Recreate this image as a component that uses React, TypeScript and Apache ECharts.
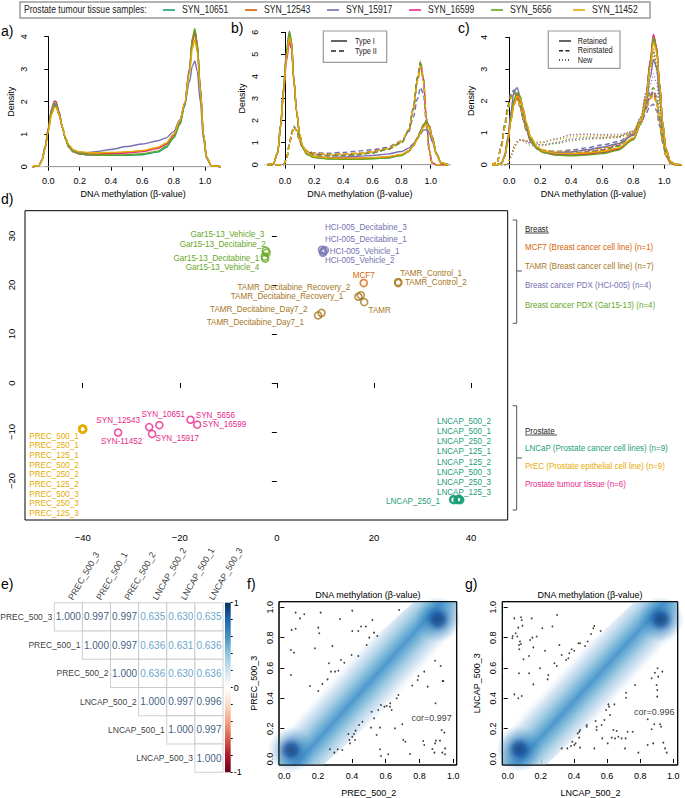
import React, { useEffect, useRef } from "react";
import * as echarts from "echarts";

// ---------------- data ----------------
const SAMPLES = ["SYN_10651", "SYN_12543", "SYN_15917", "SYN_16599", "SYN_5656", "SYN_11452"];
const SAMPLE_COLORS = ["#1B9E77", "#D95F02", "#7570B3", "#E7298A", "#66A61E", "#E6AB02"];
const LEGEND_TITLE = "Prostate tumour tissue samples:";
const X_TITLE = "DNA methylation (β-value)";

// (a) all probes
const A_X = [-0.1, -0.06, -0.04, -0.02, 0, 0.02, 0.04, 0.05, 0.07, 0.09, 0.11, 0.13, 0.16, 0.2, 0.25, 0.3, 0.4, 0.5, 0.6, 0.7, 0.75, 0.8, 0.84, 0.87, 0.9, 0.92, 0.935, 0.95, 0.97, 0.99, 1.01, 1.04, 1.1];
const A_10651 = [0, 0.03, 0.2, 0.6, 1.15, 1.7, 1.93, 1.92, 1.62, 1.2, 0.85, 0.62, 0.47, 0.4, 0.37, 0.36, 0.35, 0.35, 0.37, 0.45, 0.58, 0.88, 1.3, 1.85, 2.9, 3.85, 4.15, 3.75, 2.4, 1.0, 0.3, 0.03, 0];
const A_12543 = [0, 0.03, 0.19, 0.58, 1.1, 1.62, 1.85, 1.85, 1.58, 1.2, 0.86, 0.63, 0.48, 0.42, 0.39, 0.39, 0.41, 0.44, 0.48, 0.58, 0.7, 0.98, 1.4, 1.95, 2.95, 3.85, 4.1, 3.7, 2.4, 1.0, 0.3, 0.03, 0];
const A_15917 = [0, 0.03, 0.2, 0.6, 1.15, 1.68, 1.9, 1.88, 1.6, 1.2, 0.87, 0.65, 0.5, 0.44, 0.43, 0.46, 0.53, 0.62, 0.7, 0.8, 0.88, 1.08, 1.45, 1.9, 2.6, 3.1, 3.25, 2.95, 2.0, 0.85, 0.25, 0.03, 0];
const A_16599 = [0, 0.03, 0.21, 0.63, 1.2, 1.78, 2.02, 2.0, 1.68, 1.22, 0.85, 0.6, 0.45, 0.39, 0.37, 0.37, 0.39, 0.42, 0.47, 0.56, 0.68, 0.95, 1.38, 1.95, 3.0, 3.95, 4.2, 3.8, 2.45, 1.0, 0.3, 0.03, 0];
const A_5656 = [0, 0.03, 0.2, 0.6, 1.15, 1.72, 1.96, 1.95, 1.64, 1.2, 0.85, 0.61, 0.46, 0.4, 0.37, 0.36, 0.36, 0.37, 0.4, 0.48, 0.62, 0.9, 1.32, 1.9, 2.95, 3.95, 4.25, 3.85, 2.45, 1.0, 0.3, 0.03, 0];
const A_11452 = [0, 0.03, 0.19, 0.57, 1.08, 1.6, 1.83, 1.83, 1.58, 1.22, 0.9, 0.68, 0.52, 0.46, 0.44, 0.43, 0.44, 0.46, 0.5, 0.6, 0.72, 1.0, 1.42, 1.95, 2.85, 3.65, 3.9, 3.55, 2.35, 1.0, 0.3, 0.03, 0];
const A_CURVES = [A_10651, A_12543, A_15917, A_16599, A_5656, A_11452];

// (b) Type I (solid) / Type II (dashed)
const B_X = [-0.12, -0.08, -0.05, -0.03, -0.01, 0.01, 0.03, 0.045, 0.06, 0.08, 0.1, 0.12, 0.15, 0.2, 0.3, 0.4, 0.5, 0.6, 0.7, 0.8, 0.85, 0.88, 0.91, 0.93, 0.95, 0.97, 0.99, 1.01, 1.04, 1.07, 1.12];
const B1_10651 = [0, 0.05, 0.55, 1.8, 3.4, 5.0, 5.9, 5.5, 3.9, 2.4, 1.35, 0.8, 0.48, 0.33, 0.27, 0.26, 0.26, 0.28, 0.31, 0.42, 0.6, 0.85, 1.2, 1.5, 1.78, 1.92, 1.75, 1.25, 0.5, 0.08, 0];
const B1_12543 = [0, 0.05, 0.54, 1.77, 3.35, 4.9, 5.8, 5.42, 3.88, 2.42, 1.38, 0.82, 0.5, 0.35, 0.29, 0.28, 0.28, 0.3, 0.34, 0.45, 0.62, 0.86, 1.18, 1.47, 1.74, 1.88, 1.72, 1.22, 0.48, 0.08, 0];
const B1_15917 = [0, 0.05, 0.56, 1.85, 3.5, 5.15, 6.05, 5.6, 3.95, 2.4, 1.35, 0.82, 0.52, 0.38, 0.33, 0.35, 0.38, 0.42, 0.48, 0.6, 0.75, 0.95, 1.2, 1.4, 1.56, 1.6, 1.45, 1.05, 0.45, 0.08, 0];
const B1_16599 = [0, 0.05, 0.5, 1.7, 3.2, 4.7, 5.55, 5.25, 3.8, 2.4, 1.38, 0.82, 0.5, 0.35, 0.3, 0.29, 0.29, 0.31, 0.34, 0.45, 0.62, 0.87, 1.22, 1.52, 1.8, 1.95, 1.78, 1.27, 0.5, 0.08, 0];
const B1_5656 = [0, 0.05, 0.56, 1.83, 3.45, 5.08, 6.0, 5.58, 3.92, 2.4, 1.33, 0.78, 0.46, 0.32, 0.26, 0.25, 0.25, 0.27, 0.3, 0.41, 0.6, 0.86, 1.22, 1.53, 1.82, 1.96, 1.78, 1.26, 0.5, 0.08, 0];
const B1_11452 = [0, 0.05, 0.53, 1.75, 3.3, 4.85, 5.75, 5.4, 3.88, 2.45, 1.42, 0.86, 0.53, 0.37, 0.31, 0.3, 0.3, 0.32, 0.36, 0.46, 0.62, 0.85, 1.15, 1.43, 1.7, 1.85, 1.7, 1.22, 0.48, 0.08, 0];
const B2_10651 = [0, 0, 0, 0, 0, 0.25, 0.9, 1.4, 1.72, 1.55, 1.1, 0.78, 0.58, 0.48, 0.42, 0.43, 0.47, 0.55, 0.7, 1.0, 1.55, 2.5, 3.9, 4.55, 3.85, 2.1, 0.65, 0.08, 0, 0, 0];
const B2_12543 = [0, 0, 0, 0, 0, 0.24, 0.88, 1.38, 1.7, 1.55, 1.12, 0.8, 0.6, 0.5, 0.46, 0.48, 0.52, 0.6, 0.74, 1.05, 1.6, 2.5, 3.8, 4.45, 3.8, 2.1, 0.65, 0.08, 0, 0, 0];
const B2_15917 = [0, 0, 0, 0, 0, 0.25, 0.9, 1.4, 1.72, 1.56, 1.12, 0.82, 0.63, 0.54, 0.52, 0.56, 0.62, 0.68, 0.78, 1.08, 1.5, 2.15, 3.0, 3.5, 3.2, 1.9, 0.6, 0.08, 0, 0, 0];
const B2_16599 = [0, 0, 0, 0, 0, 0.26, 0.92, 1.42, 1.74, 1.56, 1.1, 0.77, 0.57, 0.47, 0.41, 0.42, 0.46, 0.54, 0.69, 1.0, 1.56, 2.55, 3.95, 4.62, 3.9, 2.1, 0.65, 0.08, 0, 0, 0];
const B2_5656 = [0, 0, 0, 0, 0, 0.25, 0.9, 1.4, 1.73, 1.56, 1.1, 0.76, 0.55, 0.45, 0.4, 0.41, 0.45, 0.53, 0.68, 0.98, 1.55, 2.55, 4.0, 4.7, 3.95, 2.15, 0.65, 0.08, 0, 0, 0];
const B2_11452 = [0, 0, 0, 0, 0, 0.24, 0.87, 1.37, 1.68, 1.55, 1.13, 0.82, 0.62, 0.52, 0.47, 0.49, 0.52, 0.59, 0.73, 1.05, 1.6, 2.48, 3.8, 4.45, 3.8, 2.1, 0.65, 0.08, 0, 0, 0];
const B_TYPE1 = [B1_10651, B1_12543, B1_15917, B1_16599, B1_5656, B1_11452];
const B_TYPE2 = [B2_10651, B2_12543, B2_15917, B2_16599, B2_5656, B2_11452];

// (c) Retained (solid) / Reinstated (dashed) / New (dotted)
const C_X = [-0.12, -0.08, -0.05, -0.03, -0.01, 0.01, 0.03, 0.05, 0.07, 0.09, 0.11, 0.14, 0.18, 0.22, 0.3, 0.4, 0.5, 0.6, 0.7, 0.8, 0.85, 0.88, 0.91, 0.93, 0.95, 0.97, 0.99, 1.01, 1.04, 1.07, 1.12];
const C1_10651 = [0, 0, 0.05, 0.25, 0.75, 1.45, 2.0, 2.22, 2.1, 1.7, 1.25, 0.8, 0.52, 0.4, 0.33, 0.31, 0.33, 0.38, 0.48, 0.8, 1.3, 2.0, 3.2, 3.95, 3.6, 2.5, 1.3, 0.5, 0.1, 0.01, 0];
const C1_12543 = [0, 0, 0.05, 0.24, 0.7, 1.35, 1.88, 2.1, 2.02, 1.68, 1.25, 0.82, 0.54, 0.42, 0.35, 0.34, 0.36, 0.41, 0.5, 0.82, 1.32, 2.02, 3.25, 4.05, 3.7, 2.55, 1.3, 0.5, 0.1, 0.01, 0];
const C1_15917 = [0, 0, 0.06, 0.3, 0.85, 1.65, 2.3, 2.42, 2.15, 1.68, 1.2, 0.78, 0.52, 0.42, 0.38, 0.4, 0.47, 0.55, 0.66, 0.92, 1.3, 1.85, 2.75, 3.3, 3.05, 2.15, 1.15, 0.45, 0.1, 0.01, 0];
const C1_16599 = [0, 0, 0.05, 0.25, 0.74, 1.42, 1.97, 2.2, 2.1, 1.72, 1.27, 0.8, 0.5, 0.38, 0.31, 0.3, 0.32, 0.37, 0.47, 0.8, 1.32, 2.05, 3.3, 4.1, 3.7, 2.55, 1.3, 0.5, 0.1, 0.01, 0];
const C1_5656 = [0, 0, 0.05, 0.25, 0.76, 1.47, 2.03, 2.26, 2.15, 1.75, 1.28, 0.8, 0.5, 0.38, 0.3, 0.28, 0.3, 0.35, 0.45, 0.78, 1.28, 2.0, 3.2, 4.0, 3.65, 2.5, 1.3, 0.5, 0.1, 0.01, 0];
const C1_11452 = [0, 0, 0.05, 0.24, 0.7, 1.36, 1.9, 2.15, 2.08, 1.75, 1.32, 0.86, 0.56, 0.43, 0.36, 0.35, 0.37, 0.42, 0.52, 0.84, 1.33, 2.0, 3.1, 3.85, 3.55, 2.5, 1.3, 0.5, 0.1, 0.01, 0];
const C2_10651 = [0, 0.05, 0.6, 1.2, 1.75, 2.15, 2.3, 2.15, 1.85, 1.45, 1.1, 0.72, 0.5, 0.42, 0.36, 0.36, 0.4, 0.47, 0.6, 0.95, 1.35, 1.75, 2.15, 2.25, 2.0, 1.4, 0.75, 0.3, 0.06, 0, 0];
const C2_12543 = [0, 0.05, 0.58, 1.17, 1.7, 2.1, 2.25, 2.12, 1.84, 1.46, 1.12, 0.75, 0.53, 0.45, 0.4, 0.41, 0.45, 0.52, 0.64, 0.98, 1.35, 1.72, 2.08, 2.18, 1.95, 1.38, 0.75, 0.3, 0.06, 0, 0];
const C2_15917 = [0, 0.06, 0.65, 1.28, 1.85, 2.25, 2.35, 2.15, 1.8, 1.4, 1.05, 0.7, 0.5, 0.44, 0.42, 0.46, 0.53, 0.62, 0.72, 1.0, 1.3, 1.6, 1.85, 1.9, 1.7, 1.22, 0.68, 0.28, 0.06, 0, 0];
const C2_16599 = [0, 0.05, 0.6, 1.2, 1.75, 2.15, 2.28, 2.15, 1.86, 1.46, 1.1, 0.72, 0.5, 0.41, 0.35, 0.35, 0.39, 0.46, 0.59, 0.95, 1.37, 1.8, 2.2, 2.3, 2.05, 1.42, 0.76, 0.3, 0.06, 0, 0];
const C2_5656 = [0, 0.05, 0.6, 1.2, 1.76, 2.16, 2.3, 2.16, 1.86, 1.46, 1.1, 0.72, 0.49, 0.4, 0.34, 0.34, 0.38, 0.45, 0.58, 0.95, 1.4, 1.85, 2.3, 2.42, 2.15, 1.48, 0.78, 0.3, 0.06, 0, 0];
const C2_11452 = [0, 0.05, 0.57, 1.15, 1.68, 2.08, 2.24, 2.12, 1.85, 1.48, 1.14, 0.76, 0.54, 0.46, 0.41, 0.42, 0.46, 0.53, 0.65, 0.98, 1.35, 1.72, 2.1, 2.2, 1.96, 1.38, 0.75, 0.3, 0.06, 0, 0];
const C3_10651 = [0, 0, 0, 0, 0.03, 0.25, 0.55, 0.72, 0.78, 0.76, 0.72, 0.67, 0.64, 0.64, 0.7, 0.82, 0.86, 0.86, 0.88, 1.05, 1.5, 2.2, 3.1, 3.55, 3.1, 2.0, 0.9, 0.3, 0.03, 0, 0];
const C3_12543 = [0, 0, 0, 0, 0.03, 0.22, 0.5, 0.68, 0.76, 0.76, 0.74, 0.7, 0.68, 0.7, 0.8, 0.93, 0.95, 0.92, 0.9, 1.05, 1.45, 2.15, 3.05, 3.5, 3.05, 2.0, 0.9, 0.3, 0.03, 0, 0];
const C3_15917 = [0, 0, 0, 0, 0.03, 0.24, 0.52, 0.7, 0.77, 0.76, 0.74, 0.71, 0.7, 0.72, 0.82, 0.95, 0.97, 0.95, 0.95, 1.05, 1.35, 1.85, 2.5, 2.85, 2.55, 1.7, 0.8, 0.28, 0.03, 0, 0];
const C3_16599 = [0, 0, 0, 0, 0.03, 0.26, 0.56, 0.73, 0.8, 0.77, 0.72, 0.66, 0.62, 0.62, 0.68, 0.78, 0.82, 0.84, 0.87, 1.05, 1.5, 2.25, 3.2, 3.65, 3.15, 2.05, 0.92, 0.3, 0.03, 0, 0];
const C3_5656 = [0, 0, 0, 0, 0.03, 0.25, 0.55, 0.72, 0.76, 0.72, 0.66, 0.6, 0.58, 0.6, 0.66, 0.75, 0.8, 0.82, 0.85, 1.02, 1.5, 2.2, 3.1, 3.6, 3.15, 2.05, 0.92, 0.3, 0.03, 0, 0];
const C3_11452 = [0, 0, 0, 0, 0.03, 0.23, 0.52, 0.7, 0.78, 0.78, 0.76, 0.72, 0.7, 0.72, 0.78, 0.88, 0.9, 0.9, 0.9, 1.05, 1.45, 2.1, 2.95, 3.4, 2.95, 1.95, 0.88, 0.3, 0.03, 0, 0];
const C_RETAINED = [C1_10651, C1_12543, C1_15917, C1_16599, C1_5656, C1_11452];
const C_REINSTATED = [C2_10651, C2_12543, C2_15917, C2_16599, C2_5656, C2_11452];
const C_NEW = [C3_10651, C3_12543, C3_15917, C3_16599, C3_5656, C3_11452];

// (d) MDS coordinates
const D_PREC = [[-40.1, -9.5], [-40.0, -9.3], [-39.9, -9.4], [-40.05, -9.45], [-39.95, -9.35], [-40.0, -9.5], [-40.1, -9.35], [-39.9, -9.5], [-40.0, -9.4]];
const D_LNCAP = [[36.3, -23.8], [36.5, -23.9], [37.2, -23.8], [37.4, -23.7], [37.7, -23.8], [37.8, -23.9], [36.4, -23.7], [37.3, -23.9], [37.6, -23.7]];
const D_TUMOUR = [[-32.7, -10.1], [-26.3, -9.0], [-24.2, -8.6], [-25.7, -10.4], [-17.8, -7.5], [-16.4, -8.5]];
const D_GAR = [[-2.3, 27.0], [-2.1, 26.6], [-2.5, 25.8], [-2.4, 25.4]];
const D_HCI = [[9.3, 27.2], [9.6, 26.9], [9.9, 27.1], [9.5, 26.6]];
const D_TAMR = [[8.5, 13.8], [9.2, 14.3], [16.8, 17.6], [17.3, 17.9], [18.0, 16.5], [25.0, 20.6], [25.0, 20.4]];
const D_MCF7 = [[17.9, 20.4]];
// label text, x, y, side (l = text starts at x, r = ends at x, c = centred)
const D_LAB_GAR = [["Gar15-13_Vehicle_3", -2.6, 30.4, "r"], ["Gar15-13_Decitabine_2", -2.3, 28.4, "r"], ["Gar15-13_Decitabine_1", -3.6, 25.5, "r"], ["Gar15-13_Vehicle_4", -3.6, 23.8, "r"]];
const D_LAB_HCI = [["HCI-005_Decitabine_3", 9.9, 31.8, "l"], ["HCI-005_Decitabine_1", 9.9, 29.5, "l"], ["HCI-005_Vehicle_1", 10.9, 26.9, "l"], ["HCI-005_Vehicle_2", 9.9, 25.2, "l"]];
const D_LAB_TAMR = [["TAMR_Decitabine_Recovery_2", 15.1, 19.6, "r"], ["TAMR_Decitabine_Recovery_1", 13.7, 17.8, "r"], ["TAMR_Decitabine_Day7_2", 6.3, 15.2, "r"], ["TAMR_Decitabine_Day7_1", 5.6, 12.5, "r"], ["TAMR", 18.9, 15.0, "l"], ["TAMR_Control_1", 25.4, 22.4, "l"], ["TAMR_Control_2", 26.4, 20.6, "l"]];
const D_LAB_MCF7 = [["MCF7", 17.9, 22.0, "c"]];
const D_LAB_TUMOUR = [["SYN_12543", -28.2, -7.5, "r"], ["SYN-11452", -32.0, -11.8, "c"], ["SYN_10651", -23.4, -6.3, "c"], ["SYN_15917", -25.0, -11.1, "l"], ["SYN_5656", -16.7, -6.5, "l"], ["SYN_16599", -15.3, -8.4, "l"]];
const D_LAB_PREC = [["PREC_500_1", -51.0, -10.75, "l"], ["PREC_250_1", -51.0, -12.7, "l"], ["PREC_125_1", -51.0, -14.7, "l"], ["PREC_500_2", -51.0, -16.7, "l"], ["PREC_250_2", -51.0, -18.6, "l"], ["PREC_125_2", -51.0, -20.6, "l"], ["PREC_500_3", -51.0, -22.6, "l"], ["PREC_250_3", -51.0, -24.5, "l"], ["PREC_125_3", -51.0, -26.5, "l"]];
const D_LAB_LNCAP = [["LNCAP_500_2", 44.1, -7.7, "r"], ["LNCAP_500_1", 44.1, -9.7, "r"], ["LNCAP_250_2", 44.1, -11.9, "r"], ["LNCAP_125_1", 44.1, -13.9, "r"], ["LNCAP_125_2", 44.1, -16.0, "r"], ["LNCAP_500_3", 44.1, -18.1, "r"], ["LNCAP_250_3", 44.1, -20.1, "r"], ["LNCAP_125_3", 44.1, -22.2, "r"], ["LNCAP_250_1", 33.6, -24.0, "r"]];
const D_LEGEND_BREAST = ["MCF7 (Breast cancer cell line) (n=1)", "TAMR (Breast cancer cell line) (n=7)", "Breast cancer PDX (HCI-005) (n=4)", "Breast cancer PDX (Gar15-13) (n=4)"];
const D_LEGEND_PROSTATE = ["LNCaP (Prostate cancer cell lines) (n=9)", "PrEC (Prostate epithelial cell line) (n=9)", "Prostate tumour tissue (n=6)"];

// (e) correlation matrix (upper triangle)
const CORR_NAMES = ["PREC_500_3", "PREC_500_1", "PREC_500_2", "LNCAP_500_2", "LNCAP_500_1", "LNCAP_500_3"];
const CORR_ROW_0 = [1.0, 0.997, 0.997, 0.635, 0.63, 0.635];
const CORR_ROW_1 = [1.0, 0.997, 0.636, 0.631, 0.636];
const CORR_ROW_2 = [1.0, 0.636, 0.63, 0.636];
const CORR_ROW_3 = [1.0, 0.997, 0.996];
const CORR_ROW_4 = [1.0, 0.997];
const CORR_ROW_5 = [1.0];
const CORR_ROWS = [CORR_ROW_0, CORR_ROW_1, CORR_ROW_2, CORR_ROW_3, CORR_ROW_4, CORR_ROW_5];
const CB_TICKS = [-1, 0, 1];

// (f)/(g) smooth scatter: density ridge, peaks and outlying points
const F_RIDGE = [[0.5, 0.5]];
const F_PEAKS = [[0.04, 0.06], [0.91, 0.92]];
const F_OUTLIERS = [[0.067, 0.965], [0.118, 0.954], [0.093, 0.927], [0.215, 0.965], [0.043, 0.851], [0.067, 0.859], [0.201, 0.866], [0.207, 0.829], [0.402, 0.978], [0.679, 0.982], [0.329, 0.923], [0.521, 0.916], [0.039, 0.719], [0.057, 0.701], [0.181, 0.73], [0.284, 0.745], [0.438, 0.844], [0.454, 0.873], [0.483, 0.873], [0.503, 0.8], [0.531, 0.833], [0.55, 0.811], [0.487, 0.752], [0.438, 0.679], [0.398, 0.686], [0.335, 0.653], [0.355, 0.635], [0.264, 0.631], [0.32, 0.582], [0.3, 0.576], [0.276, 0.576], [0.039, 0.554], [0.256, 0.525], [0.225, 0.495], [0.152, 0.481], [0.201, 0.448], [0.402, 0.844],
  [0.892, 0.648], [0.925, 0.613], [0.793, 0.547], [0.789, 0.521], [0.828, 0.576], [0.757, 0.484], [0.848, 0.477], [0.937, 0.514], [0.895, 0.367], [0.675, 0.422], [0.665, 0.4], [0.592, 0.345], [0.606, 0.349], [0.625, 0.345], [0.627, 0.367], [0.635, 0.323], [0.556, 0.323], [0.572, 0.356], [0.517, 0.312], [0.531, 0.268], [0.462, 0.246], [0.442, 0.224], [0.422, 0.187], [0.412, 0.165], [0.402, 0.147], [0.379, 0.165], [0.418, 0.125], [0.385, 0.125], [0.389, 0.103], [0.316, 0.064], [0.343, 0.059], [0.296, 0.042], [0.27, 0.064], [0.513, 0.207], [0.566, 0.207], [0.546, 0.158], [0.655, 0.202], [0.698, 0.229], [0.704, 0.125], [0.716, 0.114], [0.744, 0.033], [0.876, 0.066], [0.892, 0.103], [0.921, 0.121], [0.931, 0.191], [0.947, 0.174], [0.897, 0.121], [0.822, 0.119], [0.828, 0.092], [0.951, 0.031], [0.888, 0.042], [0.935, 0.042], [0.951, 0.07], [0.566, 0.064], [0.572, 0.02], [0.615, 0.031], [0.941, 0.514]];
const F_COR = { text: "cor=0.997", x: 0.872, y: 0.268 };
const G_RIDGE = [[0.5, 0.5]];
const G_PEAKS = [[0.07, 0.065], [0.925, 0.92]];
const G_OUTLIERS = [[0.04, 0.927], [0.08, 0.934], [0.085, 0.916], [0.064, 0.866], [0.048, 0.829], [0.03, 0.811], [0.028, 0.796], [0.058, 0.807], [0.074, 0.774], [0.089, 0.879], [0.068, 0.752], [0.08, 0.758], [0.145, 0.927], [0.149, 0.8], [0.175, 0.807], [0.209, 0.862], [0.27, 0.873], [0.298, 0.949], [0.135, 0.785], [0.155, 0.736], [0.225, 0.714], [0.07, 0.723], [0.095, 0.657], [0.129, 0.679], [0.195, 0.598], [0.129, 0.565], [0.155, 0.492], [0.068, 0.565], [0.04, 0.426], [0.085, 0.415], [0.064, 0.4], [0.245, 0.554], [0.241, 0.525], [0.282, 0.631], [0.296, 0.613], [0.312, 0.752], [0.326, 0.686], [0.352, 0.653], [0.366, 0.664], [0.372, 0.697], [0.386, 0.723], [0.402, 0.714], [0.427, 0.763], [0.437, 0.763], [0.467, 0.745], [0.483, 0.774], [0.503, 0.824], [0.517, 0.862], [0.523, 0.877], [0.561, 0.844],
  [0.905, 0.598], [0.889, 0.569], [0.869, 0.532], [0.909, 0.543], [0.899, 0.488], [0.903, 0.455], [0.903, 0.411], [0.934, 0.576], [0.885, 0.229], [0.92, 0.229], [0.845, 0.262], [0.926, 0.213], [0.869, 0.196], [0.769, 0.488], [0.714, 0.437], [0.714, 0.404], [0.608, 0.36], [0.612, 0.345], [0.644, 0.36], [0.594, 0.323], [0.618, 0.29], [0.584, 0.257], [0.567, 0.224], [0.531, 0.251], [0.537, 0.213], [0.537, 0.191], [0.477, 0.224], [0.477, 0.213], [0.437, 0.191], [0.433, 0.18], [0.423, 0.169], [0.431, 0.141], [0.41, 0.103], [0.402, 0.092], [0.382, 0.086], [0.39, 0.114], [0.36, 0.07], [0.326, 0.07], [0.437, 0.075], [0.523, 0.07], [0.571, 0.136], [0.638, 0.191], [0.658, 0.185], [0.668, 0.147], [0.648, 0.136], [0.688, 0.136], [0.712, 0.136], [0.724, 0.18], [0.708, 0.07], [0.755, 0.18], [0.789, 0.042], [0.845, 0.092], [0.879, 0.103], [0.94, 0.108], [0.95, 0.07], [0.96, 0.042], [0.628, 0.141], [0.604, 0.103]];
const G_COR = { text: "cor=0.996", x: 0.885, y: 0.312 };

// ---------------- styling / layout ----------------
const FONT = '"Liberation Sans", Arial, sans-serif';
const NARROW_SX = 0.86;
const COL = { MCF7: "#D95F02", TAMR: "#A6761D", HCI: "#7570B3", GAR: "#66A61E", LNCAP: "#1B9E77", PREC: "#E6AB02", TUMOUR: "#E7298A" };
const RDBU = ["#67001F", "#B2182B", "#D6604D", "#F4A582", "#FDDBC7", "#FFFFFF", "#D1E5F0", "#92C5DE", "#4393C3", "#2166AC", "#053061"];
const BAND_HALF = 0.27;
const BAND_STOPS = [
  { offset: 0, color: "rgba(222,235,247,0)" }, { offset: 0.14, color: "rgba(198,219,239,0.7)" },
  { offset: 0.3, color: "#9ECAE1" }, { offset: 0.42, color: "#6BAED6" }, { offset: 0.5, color: "#5097CC" },
  { offset: 0.58, color: "#6BAED6" }, { offset: 0.7, color: "#9ECAE1" },
  { offset: 0.86, color: "rgba(198,219,239,0.7)" }, { offset: 1, color: "rgba(222,235,247,0)" },
];

type Map4 = [number, number, number, number];
interface Panel { l: number; r: number; t: number; b: number; xmap: Map4; ymap: Map4; xt: [number, number]; yt: [number, number]; }
const PANEL_A: Panel = { l: 33.3, r: 219.7, t: 22, b: 171.7, xmap: [0, 48.3, 1, 205], ymap: [0, 166.7, 4, 36.7], xt: [0, 1], yt: [0, 4] };
const PANEL_B: Panel = { l: 264.3, r: 451.4, t: 22, b: 171.7, xmap: [0, 285, 1, 430.7], ymap: [0, 164.7, 6, 32.3], xt: [0, 1], yt: [0, 6] };
const PANEL_C: Panel = { l: 493.3, r: 680.3, t: 22, b: 171.7, xmap: [0, 509.3, 1, 664.3], ymap: [0, 164.7, 4, 37.3], xt: [0, 1], yt: [0, 4] };
const PANEL_D: Panel = { l: 25, r: 507.7, t: 210.7, b: 520, xmap: [-40, 82.7, 40, 471], ymap: [-20, 481, 30, 236], xt: [-40, 40], yt: [-20, 30] };
const PANEL_F: Panel = { l: 279, r: 456.7, t: 601.7, b: 765, xmap: [0, 284.3, 1, 453.3], ymap: [0, 759, 1, 607.3], xt: [0, 1], yt: [0, 1] };
const PANEL_G: Panel = { l: 502.3, r: 677.7, t: 601.7, b: 765, xmap: [0, 507.7, 1, 673.3], ymap: [0, 759, 1, 607.3], xt: [0, 1], yt: [0, 1] };
const E_BOX = { l: 54.3, t: 602.7, w: 168.7, h: 169.6 };
const CB_BOX = { l: 225, t: 602.7, w: 5.7, h: 169.6 };

const toPx = (m: Map4, v: number) => m[1] + ((v - m[0]) / (m[2] - m[0])) * (m[3] - m[1]);
const toVal = (m: Map4, p: number) => m[0] + ((p - m[1]) / (m[3] - m[1])) * (m[2] - m[0]);

function hexRgb(h: string) { const n = parseInt(h.slice(1), 16); return [(n >> 16) & 255, (n >> 8) & 255, n & 255]; }
function rdbu(v: number) {
  const t = Math.max(0, Math.min(10, (v + 1) * 5));
  const i = Math.min(9, Math.floor(t));
  const f = t - i;
  const a = hexRgb(RDBU[i]), b = hexRgb(RDBU[i + 1]);
  return `rgb(${a.map((c, k) => Math.round(c + (b[k] - c) * f)).join(",")})`;
}
const minus = (v: number) => (v < 0 ? "\u2212" + Math.abs(v) : String(v));

// Sutherland–Hodgman clip of a polygon to an axis-aligned box
function clipPoly(poly: number[][], xa: number, xb: number, ya: number, yb: number) {
  const planes = [[1, 0, xa], [-1, 0, -xb], [0, 1, ya], [0, -1, -yb]];
  let out = poly;
  for (const [a, b, c] of planes) {
    const inp = out;
    out = [];
    for (let i = 0; i < inp.length; i++) {
      const P = inp[i], Q = inp[(i + 1) % inp.length];
      const fp = a * P[0] + b * P[1] - c, fq = a * Q[0] + b * Q[1] - c;
      if (fp >= 0) out.push(P);
      if ((fp >= 0) !== (fq >= 0)) {
        const t = fp / (fp - fq);
        out.push([P[0] + t * (Q[0] - P[0]), P[1] + t * (Q[1] - P[1])]);
      }
    }
  }
  return out;
}

function txt(x: number, y: number, text: string, o: any = {}) {
  const align = o.align || "left";
  return {
    type: "text", x, y, silent: true, z: 100, scaleX: o.sx || 1,
    style: {
      text, fill: o.color || "#000",
      font: `${o.size || 9}px ${FONT}`,
      textAlign: align, align, textVerticalAlign: "middle", verticalAlign: "middle",
    },
  };
}
function pl(points: number[][], color: string, width: number, dash?: number[]) {
  return { type: "polyline", silent: true, z: 100, shape: { points }, style: { stroke: color, lineWidth: width, fill: null, lineDash: dash } };
}

function buildOption() {
  const grids: any[] = [], xAxes: any[] = [], yAxes: any[] = [], series: any[] = [], graphics: any[] = [];

  function addGrid(g: any, xa: any, ya: any) {
    grids.push({ outerBoundsMode: "none", containLabel: false, ...g });
    const gi = grids.length - 1;
    xAxes.push({ gridIndex: gi, ...xa });
    yAxes.push({ gridIndex: gi, ...ya });
    return gi;
  }
  function addPanel(p: Panel, axisX: any, axisY: any, frame: boolean) {
    const xmin = toVal(p.xmap, p.l), xmax = toVal(p.xmap, p.r);
    const ymin = toVal(p.ymap, p.b), ymax = toVal(p.ymap, p.t);
    const di = addGrid(
      { left: p.l, top: p.t, width: p.r - p.l, height: p.b - p.t, show: frame, borderColor: "#000", borderWidth: 1, backgroundColor: "transparent" },
      { type: "value", min: xmin, max: xmax, show: false },
      { type: "value", min: ymin, max: ymax, show: false }
    );
    const al = toPx(p.xmap, p.xt[0]), ar = toPx(p.xmap, p.xt[1]);
    const at = toPx(p.ymap, p.yt[1]), ab = toPx(p.ymap, p.yt[0]);
    addGrid(
      { left: al, top: at, width: ar - al, height: ab - at, show: false },
      { type: "value", min: p.xt[0], max: p.xt[1], offset: p.b - ab, splitLine: { show: false }, ...axisX },
      { type: "value", min: p.yt[0], max: p.yt[1], offset: al - p.l, splitLine: { show: false }, ...axisY }
    );
    return { di, xmin, xmax, ymin, ymax };
  }

  const black = { color: "#000", width: 1 };
  const densX = (pad: number) => ({
    interval: 0.2,
    axisLine: { show: true, lineStyle: black },
    axisTick: { show: true, length: 4, lineStyle: black },
    axisLabel: { margin: 5, fontSize: 9, color: "#000", fontFamily: FONT, formatter: (v: number) => v.toFixed(1) },
    name: X_TITLE, nameLocation: "middle", nameGap: 18,
    nameTextStyle: { fontSize: 9, color: "#000", fontFamily: FONT, padding: [0, 0, 0, pad] },
  });
  const densY = {
    interval: 1,
    axisLine: { show: true, lineStyle: black },
    axisTick: { show: true, length: 4, lineStyle: black },
    axisLabel: { rotate: 90, margin: 5, fontSize: 9, color: "#000", fontFamily: FONT },
    name: "Density", nameLocation: "middle", nameGap: 18,
    nameTextStyle: { fontSize: 9, color: "#000", fontFamily: FONT },
  };
  const curve = (gi: number, X: number[], Y: number[], color: string, type: any, name: string, w = 1.4) => ({
    type: "line", name, xAxisIndex: gi, yAxisIndex: gi,
    data: X.map((x, k) => [x, Y[k]]),
    symbol: "none", showSymbol: false, smooth: 0.3, smoothMonotone: "x",
    lineStyle: { color, width: w, type }, itemStyle: { color }, silent: true, z: 3,
  });
  const zeroLine = (pp: any) => ({
    type: "line", xAxisIndex: pp.di, yAxisIndex: pp.di, data: [[pp.xmin, 0], [pp.xmax, 0]],
    symbol: "none", lineStyle: { color: "#C0C0C0", width: 1 }, silent: true, z: 2,
  });
  const DASH = [5, 3];
  const DOT = [1, 2.4];

  // ---- (a)
  const pa = addPanel(PANEL_A, densX(13), densY, false);
  series.push(zeroLine(pa));
  A_CURVES.forEach((Y, i) => series.push(curve(pa.di, A_X, Y, SAMPLE_COLORS[i], "solid", SAMPLES[i])));
  // ---- (b)
  const pb = addPanel(PANEL_B, densX(4), densY, false);
  series.push(zeroLine(pb));
  B_TYPE2.forEach((Y, i) => series.push(curve(pb.di, B_X, Y, SAMPLE_COLORS[i], DASH, SAMPLES[i])));
  B_TYPE1.forEach((Y, i) => series.push(curve(pb.di, B_X, Y, SAMPLE_COLORS[i], "solid", SAMPLES[i])));
  // ---- (c)
  const pc = addPanel(PANEL_C, densX(13), densY, false);
  series.push(zeroLine(pc));
  C_NEW.forEach((Y, i) => series.push(curve(pc.di, C_X, Y, SAMPLE_COLORS[i], DOT, SAMPLES[i], 1.2)));
  C_REINSTATED.forEach((Y, i) => series.push(curve(pc.di, C_X, Y, SAMPLE_COLORS[i], DASH, SAMPLES[i])));
  C_RETAINED.forEach((Y, i) => series.push(curve(pc.di, C_X, Y, SAMPLE_COLORS[i], "solid", SAMPLES[i])));

  // ---- (d)
  const pd = addPanel(
    PANEL_D,
    { interval: 20, axisLine: { show: false }, axisTick: { show: true, length: 5, lineStyle: black }, axisLabel: { margin: 12, fontSize: 9.5, color: "#000", formatter: minus } },
    { interval: 10, axisLine: { show: false }, axisTick: { show: true, length: 5, lineStyle: black }, axisLabel: { rotate: 90, margin: 9, fontSize: 9.5, color: "#000", formatter: minus } },
    true
  );
  const dGroups: [number[][], any[], string][] = [
    [D_PREC, D_LAB_PREC, COL.PREC], [D_LNCAP, D_LAB_LNCAP, COL.LNCAP], [D_TUMOUR, D_LAB_TUMOUR, COL.TUMOUR],
    [D_GAR, D_LAB_GAR, COL.GAR], [D_HCI, D_LAB_HCI, COL.HCI], [D_TAMR, D_LAB_TAMR, COL.TAMR], [D_MCF7, D_LAB_MCF7, COL.MCF7],
  ];
  dGroups.forEach(([pts, labs, col]) => {
    series.push({
      type: "scatter", xAxisIndex: pd.di, yAxisIndex: pd.di, data: pts, symbol: "circle", symbolSize: 7,
      itemStyle: { color: "rgba(0,0,0,0)", borderColor: col, borderWidth: 1.6 }, silent: true, z: 4,
    });
    series.push({
      type: "custom", xAxisIndex: pd.di, yAxisIndex: pd.di, silent: true, z: 5,
      data: labs.map((l: any) => [l[1], l[2]]),
      renderItem: (params: any, api: any) => {
        const l = labs[params.dataIndex];
        const p = api.coord([api.value(0), api.value(1)]);
        const align = l[3] === "l" ? "left" : l[3] === "r" ? "right" : "center";
        return {
          type: "text", x: p[0], y: p[1], scaleX: 0.9,
          style: { text: l[0], fill: col, font: `9px ${FONT}`, textAlign: align, align, textVerticalAlign: "middle", verticalAlign: "middle" },
        };
      },
    });
  });

  // ---- (e)
  const ei = addGrid(
    { left: E_BOX.l, top: E_BOX.t, width: E_BOX.w, height: E_BOX.h, show: false },
    { type: "value", min: 0, max: 6, show: false },
    { type: "value", min: 0, max: 6, inverse: true, show: false }
  );
  const cellW = E_BOX.w / 6, cellH = E_BOX.h / 6;
  series.push({
    type: "scatter", xAxisIndex: ei, yAxisIndex: ei, symbol: "rect", symbolSize: [cellW, cellH],
    itemStyle: { color: "#fff", borderColor: "#C4C4C4", borderWidth: 1 },
    data: CORR_ROWS.flatMap((row, i) => row.map((v, k) => ({ value: [i + k + 0.5, i + 0.5, v], label: { color: rdbu(v) } }))),
    label: { show: true, position: "inside", fontSize: 10, fontFamily: FONT, formatter: (p: any) => p.value[2].toFixed(3) },
    silent: true, z: 3,
  });
  series.push({
    type: "scatter", xAxisIndex: ei, yAxisIndex: ei, symbolSize: 0.1, itemStyle: { color: "rgba(0,0,0,0)" },
    data: CORR_NAMES.map((n, i) => ({ name: n, value: [i, i + 0.5] })),
    label: { show: true, position: "inside", align: "right", verticalAlign: "middle", padding: [0, 2, 0, 0], formatter: "{b}", color: "#000", fontSize: 8.5, fontFamily: FONT },
    silent: true, z: 4,
  });
  series.push({
    type: "scatter", xAxisIndex: ei, yAxisIndex: ei, symbolSize: 0.1, itemStyle: { color: "rgba(0,0,0,0)" },
    data: CORR_NAMES.map((n, j) => ({ name: n, value: [j + 0.5, 0] })),
    label: { show: true, position: "inside", align: "left", verticalAlign: "middle", rotate: 60, padding: [0, 0, 0, 4], formatter: "{b}", color: "#000", fontSize: 8.8, fontFamily: FONT },
    silent: true, z: 4,
  });
  // colour bar
  const cbi = addGrid(
    { left: CB_BOX.l, top: CB_BOX.t, width: CB_BOX.w, height: CB_BOX.h, show: false },
    { type: "category", data: ["cb"], show: false },
    {
      type: "value", min: -1, max: 1, interval: 0.2, position: "right",
      axisLine: { show: false }, splitLine: { show: false },
      axisTick: { show: true, length: 2, lineStyle: black },
      axisLabel: { margin: 3, fontSize: 9, color: "#000", formatter: (v: number) => (CB_TICKS.some((t) => Math.abs(t - v) < 1e-6) ? String(Math.round(v)) : "") },
    }
  );
  const posStops = RDBU.slice(5).reverse().map((c, k) => ({ offset: k / 5, color: c }));
  const negStops = RDBU.slice(0, 6).reverse().map((c, k) => ({ offset: k / 5, color: c }));
  series.push({ type: "bar", xAxisIndex: cbi, yAxisIndex: cbi, data: [1], barWidth: "100%", barGap: "-100%", silent: true, itemStyle: { color: new echarts.graphic.LinearGradient(0, 0, 0, 1, posStops) } });
  series.push({ type: "bar", xAxisIndex: cbi, yAxisIndex: cbi, data: [-1], barWidth: "100%", barGap: "-100%", silent: true, itemStyle: { color: new echarts.graphic.LinearGradient(0, 0, 0, 1, negStops) } });

  // ---- (f) & (g)
  const scAxisX = (name: string) => ({
    interval: 0.2, axisLine: { show: false }, axisTick: { show: true, length: 4, lineStyle: black },
    axisLabel: { margin: 6, fontSize: 9, color: "#000", formatter: (v: number) => v.toFixed(1) },
    name, nameLocation: "middle", nameGap: 23, nameTextStyle: { fontSize: 9, color: "#000" },
  });
  const scAxisY = (name: string) => ({
    interval: 0.2, axisLine: { show: false }, axisTick: { show: true, length: 4, lineStyle: black },
    axisLabel: { rotate: 90, margin: 5, fontSize: 9, color: "#000", formatter: (v: number) => v.toFixed(1) },
    name, nameLocation: "middle", nameGap: 21, nameTextStyle: { fontSize: 9, color: "#000" },
  });
  const blob = new echarts.graphic.RadialGradient(0.5, 0.5, 0.5, [
    { offset: 0, color: "#08306B" }, { offset: 0.25, color: "rgba(8,69,148,0.95)" },
    { offset: 0.55, color: "rgba(33,113,181,0.45)" }, { offset: 1, color: "rgba(66,146,198,0)" },
  ]);
  const smooth = (P: Panel, xName: string, yName: string, ridge: number[][], peaks: number[][], dots: number[][], cor: any) => {
    const pp = addPanel(P, scAxisX(xName), scAxisY(yName), true);
    series.push({
      type: "custom", xAxisIndex: pp.di, yAxisIndex: pp.di, silent: true, z: 2, data: ridge,
      renderItem: (params: any, api: any) => {
        const cx = api.value(0), cy = api.value(1);
        const off = cy - cx;
        const big = 2;
        const poly = clipPoly(
          [[pp.xmin - big, pp.xmin - big + off - BAND_HALF], [pp.xmax + big, pp.xmax + big + off - BAND_HALF], [pp.xmax + big, pp.xmax + big + off + BAND_HALF], [pp.xmin - big, pp.xmin - big + off + BAND_HALF]],
          pp.xmin, pp.xmax, pp.ymin, pp.ymax
        ).map((q) => api.coord(q));
        const g0 = api.coord([cx + BAND_HALF / 2, cy - BAND_HALF / 2]);
        const g1 = api.coord([cx - BAND_HALF / 2, cy + BAND_HALF / 2]);
        return {
          type: "polygon", shape: { points: poly },
          style: { fill: new echarts.graphic.LinearGradient(g0[0], g0[1], g1[0], g1[1], BAND_STOPS, true) },
        };
      },
    });
    series.push({ type: "scatter", xAxisIndex: pp.di, yAxisIndex: pp.di, data: peaks, symbolSize: 46, itemStyle: { color: blob }, silent: true, z: 3 });
    series.push({ type: "scatter", xAxisIndex: pp.di, yAxisIndex: pp.di, data: dots, symbolSize: 1.8, itemStyle: { color: "#111" }, silent: true, z: 4 });
    series.push({
      type: "scatter", xAxisIndex: pp.di, yAxisIndex: pp.di, symbolSize: 0.1, itemStyle: { color: "rgba(0,0,0,0)" },
      data: [{ name: cor.text, value: [cor.x, cor.y] }],
      label: { show: true, position: "inside", formatter: "{b}", color: "#000", fontSize: 9 }, silent: true, z: 5,
    });
    graphics.push({ type: "rect", silent: true, z: 100, shape: { x: P.l, y: P.t, width: P.r - P.l, height: P.b - P.t }, style: { fill: null, stroke: "#000", lineWidth: 1 } });
    graphics.push(txt((P.l + P.r) / 2, P.t - 7, X_TITLE, { align: "center", size: 9 }));
  };
  smooth(PANEL_F, "PREC_500_2", "PREC_500_3", F_RIDGE, F_PEAKS, F_OUTLIERS, F_COR);
  smooth(PANEL_G, "LNCAP_500_2", "LNCAP_500_3", G_RIDGE, G_PEAKS, G_OUTLIERS, G_COR);

  // ---- annotations
  [["a)", 1, 31], ["b)", 231, 28], ["c)", 458, 28], ["d)", 1, 199], ["e)", 1, 584], ["f)", 247, 584], ["g)", 465, 584]].forEach(
    ([t, x, y]: any) => graphics.push(txt(x, y, t, { size: 14 }))
  );
  // top legend
  graphics.push({ type: "rect", silent: true, z: 99, shape: { x: 20, y: 2, width: 630, height: 16 }, style: { fill: "#fff", stroke: "#9A9A9A", lineWidth: 1.5 } });
  graphics.push(txt(24, 10, LEGEND_TITLE, { size: 10, color: "#222", sx: NARROW_SX }));
  SAMPLES.forEach((s, i) => {
    const x0 = 163 + 82 * i;
    graphics.push(pl([[x0, 10], [x0 + 12, 10]], SAMPLE_COLORS[i], 1.6));
    graphics.push(txt(x0 + 19, 10, s, { size: 10, color: "#222", sx: NARROW_SX }));
  });
  // (b) legend
  graphics.push({ type: "rect", silent: true, z: 99, shape: { x: 323.3, y: 31, width: 63.4, height: 31.3 }, style: { fill: "#fff", stroke: "#9A9A9A", lineWidth: 1.2 } });
  graphics.push(pl([[331, 41], [347, 41]], "#222", 1.4));
  graphics.push(pl([[331, 51], [347, 51]], "#222", 1.4, DASH));
  graphics.push(txt(355, 41, "Type I", { size: 8.5, color: "#222", sx: NARROW_SX }));
  graphics.push(txt(355, 51, "Type II", { size: 8.5, color: "#222", sx: NARROW_SX }));
  // (c) legend
  graphics.push({ type: "rect", silent: true, z: 99, shape: { x: 548.3, y: 31, width: 71.7, height: 37.3 }, style: { fill: "#fff", stroke: "#9A9A9A", lineWidth: 1.2 } });
  graphics.push(pl([[559, 41], [571, 41]], "#222", 1.4));
  graphics.push(pl([[559, 50.7], [571, 50.7]], "#222", 1.4, [4, 2.5]));
  graphics.push(pl([[559, 60], [571, 60]], "#222", 1.4, [1, 2]));
  graphics.push(txt(577.7, 41, "Retained", { size: 8.5, color: "#222", sx: NARROW_SX }));
  graphics.push(txt(577.7, 50.7, "Reinstated", { size: 8.5, color: "#222", sx: NARROW_SX }));
  graphics.push(txt(577.7, 60, "New", { size: 8.5, color: "#222", sx: NARROW_SX }));
  // (d) group legend
  graphics.push(pl([[512.7, 220], [516.7, 220], [516.7, 323.3], [512.7, 323.3]], "#555", 1));
  graphics.push(pl([[516.7, 271], [522, 271]], "#555", 1));
  graphics.push(pl([[512.7, 405.7], [516.7, 405.7], [516.7, 510], [512.7, 510]], "#555", 1));
  graphics.push(pl([[516.7, 458], [522, 458]], "#555", 1));
  graphics.push(txt(525, 228.3, "Breast", { size: 9.5, color: "#222", sx: 0.84 }));
  graphics.push(pl([[525, 233], [549, 233]], "#222", 0.8));
  const bCols = [COL.MCF7, COL.TAMR, COL.HCI, COL.GAR];
  D_LEGEND_BREAST.forEach((t, i) => graphics.push(txt(525, 246.7 + 19.2 * i, t, { size: 9.5, color: bCols[i], sx: 0.84 })));
  graphics.push(txt(525, 430.3, "Prostate", { size: 9.5, color: "#222", sx: 0.84 }));
  graphics.push(pl([[525, 435], [557, 435]], "#222", 0.8));
  const pCols = [COL.LNCAP, COL.PREC, COL.TUMOUR];
  D_LEGEND_PROSTATE.forEach((t, i) => graphics.push(txt(525, 447.3 + 18.35 * i, t, { size: 9.5, color: pCols[i], sx: 0.84 })));

  return {
    animation: false,
    backgroundColor: "#fff",
    textStyle: { fontFamily: FONT },
    grid: grids, xAxis: xAxes, yAxis: yAxes, series, graphic: graphics,
  };
}

export default function App() {
  const ref = useRef<HTMLDivElement>(null);
  useEffect(() => {
    if (!ref.current) return;
    const chart = echarts.init(ref.current, undefined, { renderer: "svg" });
    chart.setOption(buildOption() as any);
    return () => chart.dispose();
  }, []);
  return <div ref={ref} style={{ position: "absolute", left: 0, top: 0, width: 685, height: 798, background: "#fff" }} />;
}
